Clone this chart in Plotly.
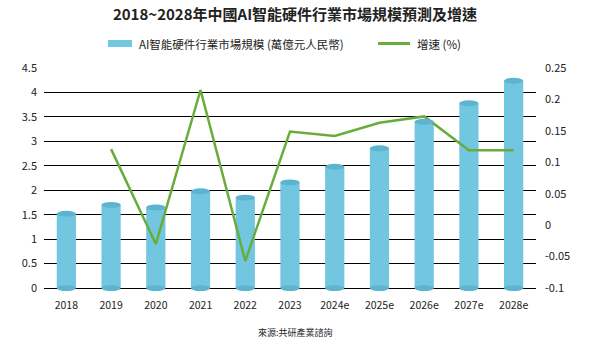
import plotly.graph_objects as go

years = ["2018", "2019", "2020", "2021", "2022", "2023", "2024e", "2025e", "2026e", "2027e", "2028e"]
market = [1.52, 1.70, 1.65, 1.98, 1.85, 2.16, 2.48, 2.86, 3.40, 3.78, 4.24]
growth = [None, 0.121, -0.030, 0.215, -0.057, 0.149, 0.142, 0.163, 0.173, 0.119, 0.119]
left_ticks = [0, 0.5, 1, 1.5, 2, 2.5, 3, 3.5, 4, 4.5]
left_text = ["0", "0.5", "1", "1.5", "2", "2.5", "3", "3.5", "4", "4.5"]
right_ticks = [-0.1, -0.05, 0, 0.05, 0.1, 0.15, 0.2, 0.25]
right_text = ["-0.1", "-0.05", "0", "0.05", "0.1", "0.15", "0.2", "0.25"]

title = "2018~2028年中國AI智能硬件行業市場規模預測及增速"
bar_name = "AI智能硬件行業市場規模 (萬億元人民幣)"
line_name = "增速 (%)"
source = "來源:共研產業諮詢"

FONT = "Noto Sans CJK TC"
BAR = "#72c6e0"
BAR_DARK = "#5cb4cf"
GREEN = "#68ad3b"

W, H = 590, 344
L, R, T, B = 44, 54, 68, 53
PW, PH = W - L - R, H - T - B
def px_x(px):
    return (px - L) / PW
def px_y(py):
    return (H - B - py) / PH

bw = 0.43
eh = 0.06  # ellipse half height in left-axis units
ymin = -0.06
y2min = -0.1 + ymin * (0.35 / 4.5)

fig = go.Figure()
fig.add_trace(go.Bar(x=years, y=market, name=bar_name, marker=dict(color=BAR, line=dict(width=0)),
                     width=bw, showlegend=False))
fig.add_trace(go.Scatter(x=years, y=growth, name=line_name, yaxis="y2", mode="lines",
                         line=dict(color=GREEN, width=2.5), showlegend=False, connectgaps=False))

shapes = []
for i, v in enumerate(market):
    shapes.append(dict(type="circle", xref="x", yref="y", x0=i - bw / 2, x1=i + bw / 2,
                       y0=v - eh, y1=v + eh, fillcolor=BAR_DARK, line=dict(width=0), layer="above"))
    shapes.append(dict(type="circle", xref="x", yref="y", x0=i - bw / 2, x1=i + bw / 2,
                       y0=-eh, y1=eh, fillcolor=BAR_DARK, line=dict(width=0), layer="above"))

# custom legend
shapes.append(dict(type="rect", xref="paper", yref="paper", x0=px_x(108), x1=px_x(132),
                   y0=px_y(47), y1=px_y(40), fillcolor=BAR, line=dict(width=0)))
shapes.append(dict(type="line", xref="paper", yref="paper", x0=px_x(378), x1=px_x(410),
                   y0=px_y(43.5), y1=px_y(43.5), line=dict(color=GREEN, width=3)))

annotations = [
    dict(text=bar_name, xref="paper", yref="paper", x=px_x(137), y=px_y(43.5), xanchor="left",
         yanchor="middle", showarrow=False, font=dict(family=FONT, size=11.5, color="#222")),
    dict(text=line_name, xref="paper", yref="paper", x=px_x(415), y=px_y(43.5), xanchor="left",
         yanchor="middle", showarrow=False, font=dict(family=FONT, size=11.5, color="#222")),
    dict(text=source, xref="paper", yref="paper", x=px_x(295), y=px_y(332), xanchor="center",
         yanchor="middle", showarrow=False, font=dict(family=FONT, size=9, color="#222")),
]

fig.update_layout(
    width=W, height=H,
    margin=dict(l=L, r=R, t=T, b=B, pad=0),
    paper_bgcolor="white", plot_bgcolor="white",
    font=dict(family=FONT, color="#222"),
    title=dict(text="<b>" + title + "</b>", x=0.5, xref="container", y=1 - 15 / H, yref="container",
               xanchor="center", yanchor="middle", font=dict(family=FONT, size=15, color="#222")),
    xaxis=dict(type="category", showgrid=False, showline=False, zeroline=False, ticks="",
               tickfont=dict(size=10.5, family=FONT, color="#222"), ticklabelstandoff=6),
    yaxis=dict(range=[ymin, 4.5], tickvals=left_ticks, ticktext=left_text, showgrid=True,
               gridcolor="black", gridwidth=1, zeroline=False, showline=False, ticks="",
               tickfont=dict(size=11, family=FONT, color="#222"), ticklabelstandoff=6),
    yaxis2=dict(range=[y2min, 0.25], tickvals=right_ticks, ticktext=right_text, overlaying="y",
                side="right", showgrid=False, zeroline=False, showline=False, ticks="",
                tickfont=dict(size=11, family=FONT, color="#222"), ticklabelstandoff=8),
    shapes=shapes, annotations=annotations, showlegend=False, bargap=0.5,
)

fig.write_html("out.html")
